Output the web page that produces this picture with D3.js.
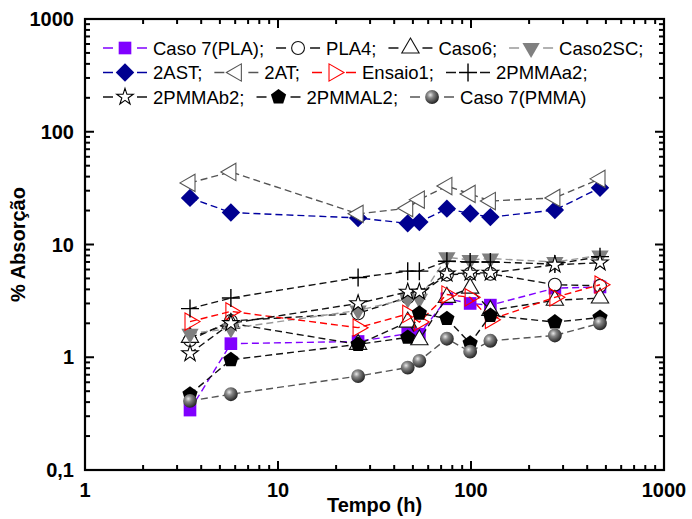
<!DOCTYPE html>
<html>
<head>
<meta charset="utf-8">
<script src="https://cdnjs.cloudflare.com/ajax/libs/d3/7.8.5/d3.min.js"></script>
<style>
  body { margin: 0; background: #fff; }
  svg { font-family: "Liberation Sans", Arial, sans-serif; }
</style>
</head>
<body>
<svg id="chart" width="692" height="519"></svg>
<script>
// tempo (h)
var times = [3.5, 5.7, 26, 47, 54, 75, 99, 126, 272, 466];

// % absorção por ensaio
var caso7PLA  = [0.34, 1.32, 1.38, 1.62, 1.6, 3.3, 3.0, 2.9, 4.1, 4.2];
var pla4      = [1.42, 2.1, 2.45, 3.4, 3.6, 5.4, 5.5, 5.5, 4.4, 4.3];
var caso6     = [1.5, 2.0, 1.3, 2.05, 1.43, 3.4, 4.1, 2.6, 3.2, 3.35];
var caso2SC   = [1.62, 1.8, 2.6, 3.3, 3.3, 7.7, 7.3, 7.5, 7.0, 8.0];
var ast2      = [25.9, 19.2, 17.2, 15.4, 15.8, 20.8, 18.8, 17.5, 20.2, 31.8];
var at2       = [35.2, 44, 18.7, 21, 25, 33, 28.1, 24.3, 25.9, 38.2];
var ensaio1   = [2.07, 2.55, 1.83, 2.42, 2.05, 3.6, 3.4, 2.15, 3.4, 4.4];
var pmmaA2    = [2.7, 3.35, 5.1, 5.8, 5.8, 7.1, 7.0, 7.0, 6.7, 7.8];
var pmmaB2    = [1.08, 2.0, 3.0, 3.8, 3.8, 5.5, 5.6, 5.6, 6.6, 6.9];
var pmmaL2    = [0.47, 0.95, 1.3, 1.5, 2.46, 2.2, 1.33, 2.35, 2.05, 2.25];
var caso7PMMA = [0.41, 0.47, 0.68, 0.81, 0.93, 1.46, 1.12, 1.4, 1.56, 2.0];

var xTicks = [1, 10, 100, 1000];
var yTicks = [0.1, 1, 10, 100, 1000];
var yTickLabels = ['0,1', '1', '10', '100', '1000'];

var series = [
  {name: 'Caso 7(PLA);', values: caso7PLA, line: '#8000ff', marker: 'square', fill: '#8000ff', stroke: 'none'},
  {name: 'PLA4;', values: pla4, line: '#111', marker: 'circle', fill: '#fff', stroke: '#111'},
  {name: 'Caso6;', values: caso6, line: '#111', marker: 'triUp', fill: '#fff', stroke: '#111'},
  {name: 'Caso2SC;', values: caso2SC, line: '#999', marker: 'triDown', fill: '#808080', stroke: 'none'},
  {name: '2AST;', values: ast2, line: '#0000a0', marker: 'diamond', fill: '#000090', stroke: 'none'},
  {name: '2AT;', values: at2, line: '#555', marker: 'triLeft', fill: '#fff', stroke: '#555'},
  {name: 'Ensaio1;', values: ensaio1, line: '#ff0000', marker: 'triRight', fill: 'none', stroke: '#ff0000'},
  {name: '2PMMAa2;', values: pmmaA2, line: '#111', marker: 'plus', fill: 'none', stroke: '#000'},
  {name: '2PMMAb2;', values: pmmaB2, line: '#111', marker: 'star', fill: '#fff', stroke: '#000'},
  {name: '2PMMAL2;', values: pmmaL2, line: '#111', marker: 'pentagon', fill: '#000', stroke: 'none'},
  {name: 'Caso 7(PMMA)', values: caso7PMMA, line: '#555', marker: 'sphere', fill: 'url(#ball)', stroke: 'none'}
];

var margin = {left: 85, right: 28, top: 19, bottom: 49};
var width = 692, height = 519;

var svg = d3.select('#chart');

var defs = svg.append('defs');
var grad = defs.append('radialGradient').attr('id', 'ball')
  .attr('cx', '0.38').attr('cy', '0.35').attr('r', '0.65');
grad.append('stop').attr('offset', '0%').attr('stop-color', '#e8e8e8');
grad.append('stop').attr('offset', '35%').attr('stop-color', '#888');
grad.append('stop').attr('offset', '100%').attr('stop-color', '#262626');

var x = d3.scaleLog().domain([1, 1000]).range([margin.left, width - margin.right]);
var y = d3.scaleLog().domain([0.1, 1000]).range([height - margin.bottom, margin.top]);

function pentagonPath(r) {
  var pts = d3.range(5).map(function(k) {
    var a = -Math.PI / 2 + k * 2 * Math.PI / 5;
    return [r * Math.cos(a), r * Math.sin(a)];
  });
  return 'M' + pts.join('L') + 'Z';
}

function markerPath(type) {
  switch (type) {
    case 'square': return d3.symbol(d3.symbolSquare, 160)();
    case 'circle': return d3.symbol(d3.symbolCircle, 130)();
    case 'diamond': return d3.symbol(d3.symbolSquare, 170)();
    case 'triUp': case 'triDown': case 'triLeft': case 'triRight':
      return d3.symbol(d3.symbolTriangle, 130)();
    case 'star': return d3.symbol(d3.symbolStar, 85)();
    case 'pentagon': return pentagonPath(8);
    case 'sphere': return d3.symbol(d3.symbolCircle, 150)();
    case 'plus': return 'M-9,0H9M0,-9V9';
  }
}

var rotation = {diamond: 45, triDown: 180, triLeft: -90, triRight: 90};

function drawMarker(g, s, cx, cy) {
  var rot = rotation[s.marker] || 0;
  g.append('path')
    .attr('d', markerPath(s.marker))
    .attr('transform', 'translate(' + cx + ',' + cy + ') rotate(' + rot + ')')
    .attr('fill', s.fill)
    .attr('stroke', s.stroke)
    .attr('stroke-width', s.marker === 'plus' ? 1.4 : 1.1);
}

// series
var line = d3.line()
  .x(function(d) { return x(d.t); })
  .y(function(d) { return y(d.v); });

var plot = svg.append('g');
series.forEach(function(s) {
  var pts = s.values.map(function(v, i) { return {t: times[i], v: v}; });
  var g = plot.append('g');
  g.append('path')
    .datum(pts)
    .attr('d', line)
    .attr('fill', 'none')
    .attr('stroke', s.line)
    .attr('stroke-width', 1.4)
    .attr('stroke-dasharray', '7,4');
  pts.forEach(function(p) { drawMarker(g, s, x(p.t), y(p.v)); });
});

// axes with inward ticks on all sides
function minorTicks(domain) {
  var out = [];
  for (var d = domain[0]; d < domain[1]; d *= 10) {
    for (var k = 2; k <= 9; k++) out.push(d * k);
  }
  return out;
}

var axes = svg.append('g');
var x0 = x.range()[0], x1 = x.range()[1], y0 = y.range()[0], y1 = y.range()[1];

axes.append('rect')
  .attr('x', x0).attr('y', y1)
  .attr('width', x1 - x0).attr('height', y0 - y1)
  .attr('fill', 'none').attr('stroke', '#000').attr('stroke-width', 2.2);

function tickLines(vals, len) {
  vals.forEach(function(v) {
    var px = x(v);
    axes.append('line').attr('x1', px).attr('x2', px).attr('y1', y0).attr('y2', y0 - len);
    axes.append('line').attr('x1', px).attr('x2', px).attr('y1', y1).attr('y2', y1 + len);
  });
}
function tickLinesY(vals, len) {
  vals.forEach(function(v) {
    var py = y(v);
    axes.append('line').attr('y1', py).attr('y2', py).attr('x1', x0).attr('x2', x0 + len);
    axes.append('line').attr('y1', py).attr('y2', py).attr('x1', x1).attr('x2', x1 - len);
  });
}
tickLines(xTicks, 9);
tickLines(minorTicks(x.domain()), 5);
tickLinesY(yTicks, 9);
tickLinesY(minorTicks(y.domain()), 5);
axes.selectAll('line').attr('stroke', '#000').attr('stroke-width', 2);

axes.selectAll('.xl')
  .data(xTicks)
  .enter().append('text')
  .attr('x', function(d) { return x(d); })
  .attr('y', y0 + 27)
  .attr('text-anchor', 'middle')
  .attr('font-size', 20).attr('font-weight', 'bold')
  .text(function(d) { return d; });

axes.selectAll('.yl')
  .data(yTicks)
  .enter().append('text')
  .attr('x', x0 - 11)
  .attr('y', function(d) { return y(d) + 7; })
  .attr('text-anchor', 'end')
  .attr('font-size', 20).attr('font-weight', 'bold')
  .text(function(d, i) { return yTickLabels[i]; });

svg.append('text')
  .attr('x', (x0 + x1) / 2).attr('y', 512)
  .attr('text-anchor', 'middle')
  .attr('font-size', 20).attr('font-weight', 'bold')
  .text('Tempo (h)');

svg.append('text')
  .attr('transform', 'translate(25,' + ((y0 + y1) / 2) + ') rotate(-90)')
  .attr('text-anchor', 'middle')
  .attr('font-size', 20).attr('font-weight', 'bold')
  .text('% Absorção');

// legend
var legendRows = [[0, 1, 2, 3], [4, 5, 6, 7], [8, 9, 10]];
var legend = svg.append('g');
legendRows.forEach(function(row, r) {
  var ly = 48 + r * 24.5;
  var lx = 103;
  row.forEach(function(idx) {
    var s = series[idx];
    var g = legend.append('g');
    g.append('line').attr('x1', lx).attr('x2', lx + 10).attr('y1', ly).attr('y2', ly)
      .attr('stroke', s.line).attr('stroke-width', 1.5);
    g.append('line').attr('x1', lx + 34).attr('x2', lx + 44).attr('y1', ly).attr('y2', ly)
      .attr('stroke', s.line).attr('stroke-width', 1.5);
    drawMarker(g, s, lx + 22, ly);
    var t = g.append('text')
      .attr('x', lx + 50).attr('y', ly + 6.5)
      .attr('font-size', 18.5)
      .text(s.name);
    lx = lx + 50 + t.node().getComputedTextLength() + 12;
  });
});
</script>
</body>
</html>
